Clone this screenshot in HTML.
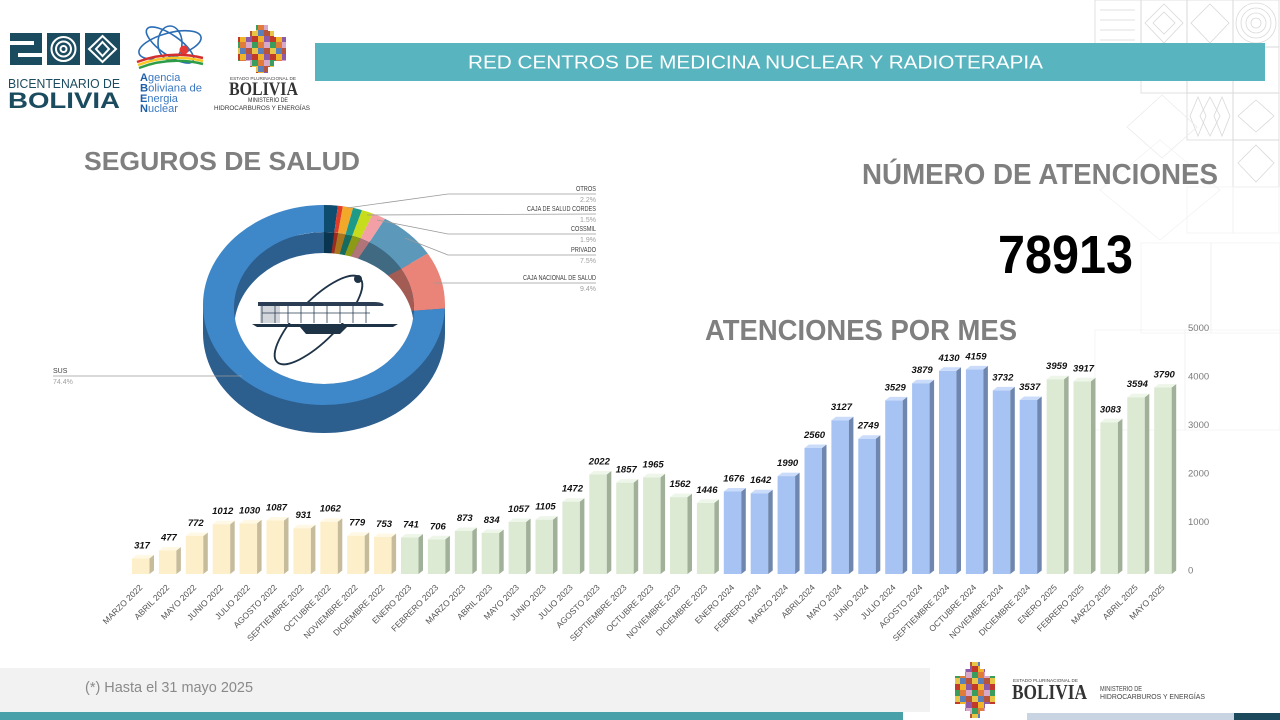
<!DOCTYPE html>
<html><head><meta charset="utf-8"><style>
html,body{margin:0;padding:0;background:#fff;}
svg{display:block;}
text{font-family:"Liberation Sans",Arial,sans-serif;}
.y22 rect{fill:#fcefc9}.y22 .s{fill:#c6bc9c}.y22 .t{fill:#fff8e4}
.y23 rect{fill:#dcead4}.y23 .s{fill:#a0b099}.y23 .t{fill:#eef6ea}
.y24 rect{fill:#a6c3f3}.y24 .s{fill:#6f87ae}.y24 .t{fill:#cbdcfb}
.v{font-size:9.5px;font-weight:bold;font-style:italic;fill:#111;text-anchor:middle;}
.l{font-size:8.5px;fill:#555;text-anchor:end;}
.ax{font-size:9.5px;fill:#7a7a7a;}
.pl{font-size:7px;fill:#404040;text-anchor:end;}
.pp{font-size:7px;fill:#a0a0a0;text-anchor:end;}
</style></head><body>
<svg width="1280" height="720" viewBox="0 0 1280 720" xmlns="http://www.w3.org/2000/svg">
<defs>
<pattern id="pc" width="18" height="18" patternUnits="userSpaceOnUse">
<rect width="6" height="6" fill="#c0392b"/><rect x="6" width="6" height="6" fill="#f0b429"/><rect x="12" width="6" height="6" fill="#8e5aa8"/>
<rect y="6" width="6" height="6" fill="#3a9d5d"/><rect x="6" y="6" width="6" height="6" fill="#e07b39"/><rect x="12" y="6" width="6" height="6" fill="#d9a7c7"/>
<rect y="12" width="6" height="6" fill="#e8c547"/><rect x="6" y="12" width="6" height="6" fill="#5b7fb8"/><rect x="12" y="12" width="6" height="6" fill="#b5533c"/>
</pattern>
<clipPath id="hole"><ellipse cx="324" cy="308" rx="90" ry="76"/></clipPath>
</defs>

<!-- background tiles -->
<g fill="none" stroke="#d9d9d9" stroke-width="0.8">
<rect x="1095" y="0" width="46" height="47"/><rect x="1141" y="0" width="46" height="47"/><rect x="1187" y="0" width="46" height="47"/><rect x="1233" y="0" width="46" height="47"/>
<rect x="1141" y="47" width="46" height="46"/><rect x="1187" y="47" width="46" height="46"/><rect x="1233" y="47" width="46" height="46"/>
<rect x="1187" y="93" width="46" height="47"/><rect x="1233" y="93" width="46" height="47"/>
<rect x="1233" y="140" width="46" height="47"/>
<circle cx="1256" cy="23" r="5"/><circle cx="1256" cy="23" r="10"/><circle cx="1256" cy="23" r="15"/><circle cx="1256" cy="23" r="20"/>
<polygon points="1164,4 1183,23 1164,43 1145,23"/><polygon points="1164,12 1175,23 1164,34 1153,23"/>
<polygon points="1210,4 1229,23 1210,43 1191,23"/>
<path d="M1100 10 H1135 M1100 20 H1135 M1100 30 H1135 M1100 40 H1135"/>
<polygon points="1210,97 1220,116 1210,136 1200,116"/><polygon points="1198,97 1206,116 1198,136 1190,116"/><polygon points="1222,97 1230,116 1222,136 1214,116"/>
<polygon points="1256,100 1274,116 1256,132 1238,116"/><polygon points="1256,145 1274,163 1256,182 1238,163"/>
</g>
<g fill="none" stroke="#ebebeb" stroke-width="0.8">
<polygon points="1127,127 1162,95 1197,127 1162,158"/>
</g>
<g fill="none" stroke="#f2f2f2" stroke-width="0.8">
<rect x="1187" y="187" width="46" height="46"/><rect x="1233" y="187" width="46" height="46"/>
<rect x="1141" y="243" width="70" height="90"/><rect x="1211" y="243" width="69" height="90"/>
<polygon points="1100,190 1160,140 1220,190 1160,240"/>
<rect x="1095" y="330" width="90" height="100"/><rect x="1185" y="330" width="95" height="100"/>
</g>

<!-- title bar -->
<rect x="315" y="43" width="950" height="38" fill="#58b5bf"/>
<text x="468" y="68.5" font-size="18" fill="#fff" textLength="575" lengthAdjust="spacingAndGlyphs">RED CENTROS DE MEDICINA NUCLEAR Y RADIOTERAPIA</text>

<!-- logos top left -->
<g fill="#1b4b5f">
<rect x="10" y="33" width="32" height="8"/><rect x="10" y="45" width="32" height="8"/><rect x="10" y="57" width="32" height="8"/>
<rect x="34" y="33" width="8" height="18"/><rect x="10" y="47" width="8" height="18"/>
<rect x="47" y="33" width="33" height="32"/>
<rect x="85" y="33" width="35" height="32"/>
</g>
<g fill="none" stroke="#fff" stroke-width="2">
<circle cx="63.5" cy="49" r="12"/><circle cx="63.5" cy="49" r="7.5"/><circle cx="63.5" cy="49" r="3"/>
<polygon points="102.5,36 116,49 102.5,62 89,49"/><polygon points="102.5,42 109,49 102.5,56 96,49"/>
</g>
<text x="8" y="88" font-size="13" fill="#1b4b5f" textLength="112" lengthAdjust="spacingAndGlyphs">BICENTENARIO DE</text>
<text x="8" y="108" font-size="22" font-weight="bold" fill="#1b4b5f" textLength="112" lengthAdjust="spacingAndGlyphs">BOLIVIA</text>

<g fill="none" stroke="#2a6db5" stroke-width="1.6">
<ellipse cx="170" cy="45" rx="32" ry="12" transform="rotate(-15 170 45)"/>
<ellipse cx="170" cy="45" rx="28" ry="10" transform="rotate(35 170 45)"/>
<ellipse cx="170" cy="43" rx="12" ry="17"/>
</g>
<circle cx="184" cy="50" r="4.5" fill="#e53935"/>
<path d="M137 62 Q170 50 203 58" stroke="#d32f2f" stroke-width="2.5" fill="none"/>
<path d="M138 65 Q170 53 203 61" stroke="#f9c623" stroke-width="2.5" fill="none"/>
<path d="M139 68 Q170 56 203 64" stroke="#2e9d48" stroke-width="2.5" fill="none"/>
<g font-size="11" fill="#3a78c0">
<text x="140" y="81"><tspan font-weight="bold" fill="#1d5fa8">A</tspan>gencia</text>
<text x="140" y="91.5" textLength="62" lengthAdjust="spacingAndGlyphs"><tspan font-weight="bold" fill="#1d5fa8">B</tspan>oliviana de</text>
<text x="140" y="102"><tspan font-weight="bold" fill="#1d5fa8">E</tspan>nergia</text>
<text x="140" y="112"><tspan font-weight="bold" fill="#1d5fa8">N</tspan>uclear</text>
</g>

<path d="M256 25 H268 V31 H274 V37 H286 V61 H274 V67 H268 V73 H256 V67 H250 V61 H238 V37 H250 V31 H256 Z" fill="url(#pc)"/>
<text x="230" y="80" font-size="4.5" fill="#444" textLength="66" lengthAdjust="spacingAndGlyphs">ESTADO PLURINACIONAL DE</text>
<text x="229" y="95" font-size="19" font-weight="bold" fill="#333" textLength="69" lengthAdjust="spacingAndGlyphs" style="font-family:'Liberation Serif',serif">BOLIVIA</text>
<text x="248" y="102" font-size="6.5" fill="#333" textLength="40" lengthAdjust="spacingAndGlyphs">MINISTERIO DE</text>
<text x="214" y="110" font-size="6.5" fill="#333" textLength="96" lengthAdjust="spacingAndGlyphs">HIDROCARBUROS Y ENERGÍAS</text>

<!-- headings -->
<text x="84" y="170" font-size="26" font-weight="bold" fill="#7f7f7f" textLength="276" lengthAdjust="spacingAndGlyphs">SEGUROS DE SALUD</text>
<text x="862" y="184" font-size="29" font-weight="bold" fill="#7f7f7f" textLength="356" lengthAdjust="spacingAndGlyphs">NÚMERO DE ATENCIONES</text>
<text x="998" y="273" font-size="54" font-weight="bold" fill="#000" textLength="135" lengthAdjust="spacingAndGlyphs">78913</text>
<text x="705" y="340" font-size="29" font-weight="bold" fill="#7f7f7f" textLength="312" lengthAdjust="spacingAndGlyphs">ATENCIONES POR MES</text>

<!-- donut -->
<ellipse cx="324" cy="333" rx="121" ry="100" fill="#2c5e8e"/>
<rect x="203" y="305" width="242" height="28" fill="#2c5e8e"/>
<path d="M324 205 A121 100 0 0 1 337.9 205.7 L334.3 232.5 A90 76 0 0 0 324 232 Z" fill="#0e4d70"/>
<path d="M337.9 205.7 A121 100 0 0 1 342.9 206.2 L338.1 232.9 A90 76 0 0 0 334.3 232.5 Z" fill="#e03c2c"/>
<path d="M342.9 206.2 A121 100 0 0 1 353.1 207.9 L345.6 234.2 A90 76 0 0 0 338.1 232.9 Z" fill="#f4a82a"/>
<path d="M353.1 207.9 A121 100 0 0 1 362 210.1 L352.3 235.8 A90 76 0 0 0 345.6 234.2 Z" fill="#1d9a88"/>
<path d="M362 210.1 A121 100 0 0 1 373 213.6 L360.5 238.5 A90 76 0 0 0 352.3 235.8 Z" fill="#c8dc1e"/>
<path d="M373 213.6 A121 100 0 0 1 385 218.7 L369.4 242.4 A90 76 0 0 0 360.5 238.5 Z" fill="#f2a0a6"/>
<path d="M385 218.7 A121 100 0 0 1 427.7 253.5 L401.1 268.9 A90 76 0 0 0 369.4 242.4 Z" fill="#5b98b9"/>
<path d="M427.7 253.5 A121 100 0 0 1 444.9 308.5 L413.9 310.7 A90 76 0 0 0 401.1 268.9 Z" fill="#ea8378"/>
<path d="M444.9 308.5 A121 100 0 1 1 324 205 L324 232 A90 76 0 1 0 413.9 310.7 Z" fill="#3e87c9"/>
<g clip-path="url(#hole)">
<ellipse cx="324" cy="308" rx="90" ry="76" fill="#2c5e8e"/>
<path d="M324 308 L324 232 A90 76 0 0 1 334.3 232.5 Z" fill="#0a3550"/>
<path d="M324 308 L334.3 232.5 A90 76 0 0 1 338.1 232.9 Z" fill="#9c2a1f"/>
<path d="M324 308 L338.1 232.9 A90 76 0 0 1 345.6 234.2 Z" fill="#aa761d"/>
<path d="M324 308 L345.6 234.2 A90 76 0 0 1 352.3 235.8 Z" fill="#146b5f"/>
<path d="M324 308 L352.3 235.8 A90 76 0 0 1 360.5 238.5 Z" fill="#8c9a15"/>
<path d="M324 308 L360.5 238.5 A90 76 0 0 1 369.4 242.4 Z" fill="#b07479"/>
<path d="M324 308 L369.4 242.4 A90 76 0 0 1 401.1 268.9 Z" fill="#3f6a81"/>
<path d="M324 308 L401.1 268.9 A90 76 0 0 1 413.9 310.7 Z" fill="#a35c54"/>
<ellipse cx="324" cy="329" rx="90" ry="76" fill="#fff"/>
</g>
<!-- center logo -->
<ellipse cx="318.5" cy="320" rx="59" ry="20" transform="rotate(-45.4 318.5 320)" fill="none" stroke="#1f3347" stroke-width="1.8"/>
<circle cx="358" cy="279" r="4" fill="#1f3347"/>
<rect x="260" y="306" width="112" height="17" fill="#fff"/>
<rect x="260" y="306" width="20" height="17" fill="#d3d7dc"/>
<g stroke="#2a3d52" stroke-width="0.8">
<path d="M262 306 V323 M275 306 V323 M288 306 V323 M301 306 V323 M314 306 V323 M327 306 V323 M340 306 V323 M353 306 V323 M366 306 V323 M262 313 H370"/>
</g>
<path d="M258 302 H374 Q386 302.5 383 306 H258 Z" fill="#2a3d52"/>
<path d="M252 324 H398 L393 327 H257 Z" fill="#1f3347"/>
<polygon points="300,327 347,327 340,334 306,334" fill="#1f3347"/>

<!-- leader lines -->
<g fill="none" stroke="#9a9a9a" stroke-width="0.8">
<polyline points="347,208 448,194 596,194"/>
<polyline points="367,215 596,214"/>
<polyline points="377,220 448,234 596,234"/>
<polyline points="405,238 448,255 596,255"/>
<polyline points="433,283 596,283"/>
<polyline points="242,376 53,376"/>
</g>
<text class="pl" x="596" y="191" textLength="20" lengthAdjust="spacingAndGlyphs">OTROS</text>
<text class="pp" x="596" y="202">2.2%</text>
<text class="pl" x="596" y="211" textLength="69" lengthAdjust="spacingAndGlyphs">CAJA DE SALUD CORDES</text>
<text class="pp" x="596" y="222">1.5%</text>
<text class="pl" x="596" y="231" textLength="25" lengthAdjust="spacingAndGlyphs">COSSMIL</text>
<text class="pp" x="596" y="242">1.9%</text>
<text class="pl" x="596" y="252" textLength="25" lengthAdjust="spacingAndGlyphs">PRIVADO</text>
<text class="pp" x="596" y="263">7.5%</text>
<text class="pl" x="596" y="280" textLength="73" lengthAdjust="spacingAndGlyphs">CAJA NACIONAL DE SALUD</text>
<text class="pp" x="596" y="291">9.4%</text>
<text x="53" y="373" font-size="7" fill="#404040">SUS</text>
<text x="53" y="384" font-size="7" fill="#a0a0a0">74.4%</text>

<!-- y axis -->
<text class="ax" x="1188" y="573.5">0</text>
<text class="ax" x="1188" y="525">1000</text>
<text class="ax" x="1188" y="476.5">2000</text>
<text class="ax" x="1188" y="428">3000</text>
<text class="ax" x="1188" y="379.5">4000</text>
<text class="ax" x="1188" y="331">5000</text>

<!-- bars -->
<g transform="translate(132,0)" class="y22"><rect x="0" y="558.4" width="17.5" height="15.6"/><polygon class="s" points="17.5,558.4 22,554.9 22,570.5 17.5,574"/><polygon class="t" points="0,558.4 17.5,558.4 22,554.9 4.5,554.9"/><text class="v" x="10" y="548.4">317</text><text class="l" x="11" y="588" transform="rotate(-45 11 588)">MARZO 2022</text></g>
<g transform="translate(158.9,0)" class="y22"><rect x="0" y="550.5" width="17.5" height="23.5"/><polygon class="s" points="17.5,550.5 22,547 22,570.5 17.5,574"/><polygon class="t" points="0,550.5 17.5,550.5 22,547 4.5,547"/><text class="v" x="10" y="540.5">477</text><text class="l" x="11" y="588" transform="rotate(-45 11 588)">ABRIL  2022</text></g>
<g transform="translate(185.8,0)" class="y22"><rect x="0" y="536" width="17.5" height="38"/><polygon class="s" points="17.5,536 22,532.5 22,570.5 17.5,574"/><polygon class="t" points="0,536 17.5,536 22,532.5 4.5,532.5"/><text class="v" x="10" y="526">772</text><text class="l" x="11" y="588" transform="rotate(-45 11 588)">MAYO 2022</text></g>
<g transform="translate(212.7,0)" class="y22"><rect x="0" y="524.2" width="17.5" height="49.8"/><polygon class="s" points="17.5,524.2 22,520.7 22,570.5 17.5,574"/><polygon class="t" points="0,524.2 17.5,524.2 22,520.7 4.5,520.7"/><text class="v" x="10" y="514.2">1012</text><text class="l" x="11" y="588" transform="rotate(-45 11 588)">JUNIO 2022</text></g>
<g transform="translate(239.6,0)" class="y22"><rect x="0" y="523.3" width="17.5" height="50.7"/><polygon class="s" points="17.5,523.3 22,519.8 22,570.5 17.5,574"/><polygon class="t" points="0,523.3 17.5,523.3 22,519.8 4.5,519.8"/><text class="v" x="10" y="513.3">1030</text><text class="l" x="11" y="588" transform="rotate(-45 11 588)">JULIO 2022</text></g>
<g transform="translate(266.5,0)" class="y22"><rect x="0" y="520.5" width="17.5" height="53.5"/><polygon class="s" points="17.5,520.5 22,517 22,570.5 17.5,574"/><polygon class="t" points="0,520.5 17.5,520.5 22,517 4.5,517"/><text class="v" x="10" y="510.5">1087</text><text class="l" x="11" y="588" transform="rotate(-45 11 588)">AGOSTO 2022</text></g>
<g transform="translate(293.4,0)" class="y22"><rect x="0" y="528.2" width="17.5" height="45.8"/><polygon class="s" points="17.5,528.2 22,524.7 22,570.5 17.5,574"/><polygon class="t" points="0,528.2 17.5,528.2 22,524.7 4.5,524.7"/><text class="v" x="10" y="518.2">931</text><text class="l" x="11" y="588" transform="rotate(-45 11 588)">SEPTIEMBRE 2022</text></g>
<g transform="translate(320.3,0)" class="y22"><rect x="0" y="521.7" width="17.5" height="52.3"/><polygon class="s" points="17.5,521.7 22,518.2 22,570.5 17.5,574"/><polygon class="t" points="0,521.7 17.5,521.7 22,518.2 4.5,518.2"/><text class="v" x="10" y="511.7">1062</text><text class="l" x="11" y="588" transform="rotate(-45 11 588)">OCTUBRE 2022</text></g>
<g transform="translate(347.2,0)" class="y22"><rect x="0" y="535.7" width="17.5" height="38.3"/><polygon class="s" points="17.5,535.7 22,532.2 22,570.5 17.5,574"/><polygon class="t" points="0,535.7 17.5,535.7 22,532.2 4.5,532.2"/><text class="v" x="10" y="525.7">779</text><text class="l" x="11" y="588" transform="rotate(-45 11 588)">NOVIEMBRE 2022</text></g>
<g transform="translate(374.1,0)" class="y22"><rect x="0" y="537" width="17.5" height="37"/><polygon class="s" points="17.5,537 22,533.5 22,570.5 17.5,574"/><polygon class="t" points="0,537 17.5,537 22,533.5 4.5,533.5"/><text class="v" x="10" y="527">753</text><text class="l" x="11" y="588" transform="rotate(-45 11 588)">DICIEMBRE 2022</text></g>
<g transform="translate(401,0)" class="y23"><rect x="0" y="537.5" width="17.5" height="36.5"/><polygon class="s" points="17.5,537.5 22,534 22,570.5 17.5,574"/><polygon class="t" points="0,537.5 17.5,537.5 22,534 4.5,534"/><text class="v" x="10" y="527.5">741</text><text class="l" x="11" y="588" transform="rotate(-45 11 588)">ENERO 2023</text></g>
<g transform="translate(427.9,0)" class="y23"><rect x="0" y="539.3" width="17.5" height="34.7"/><polygon class="s" points="17.5,539.3 22,535.8 22,570.5 17.5,574"/><polygon class="t" points="0,539.3 17.5,539.3 22,535.8 4.5,535.8"/><text class="v" x="10" y="529.3">706</text><text class="l" x="11" y="588" transform="rotate(-45 11 588)">FEBRERO 2023</text></g>
<g transform="translate(454.8,0)" class="y23"><rect x="0" y="531" width="17.5" height="43"/><polygon class="s" points="17.5,531 22,527.5 22,570.5 17.5,574"/><polygon class="t" points="0,531 17.5,531 22,527.5 4.5,527.5"/><text class="v" x="10" y="521">873</text><text class="l" x="11" y="588" transform="rotate(-45 11 588)">MARZO 2023</text></g>
<g transform="translate(481.7,0)" class="y23"><rect x="0" y="533" width="17.5" height="41"/><polygon class="s" points="17.5,533 22,529.5 22,570.5 17.5,574"/><polygon class="t" points="0,533 17.5,533 22,529.5 4.5,529.5"/><text class="v" x="10" y="523">834</text><text class="l" x="11" y="588" transform="rotate(-45 11 588)">ABRIL 2023</text></g>
<g transform="translate(508.6,0)" class="y23"><rect x="0" y="522" width="17.5" height="52"/><polygon class="s" points="17.5,522 22,518.5 22,570.5 17.5,574"/><polygon class="t" points="0,522 17.5,522 22,518.5 4.5,518.5"/><text class="v" x="10" y="512">1057</text><text class="l" x="11" y="588" transform="rotate(-45 11 588)">MAYO 2023</text></g>
<g transform="translate(535.5,0)" class="y23"><rect x="0" y="519.6" width="17.5" height="54.4"/><polygon class="s" points="17.5,519.6 22,516.1 22,570.5 17.5,574"/><polygon class="t" points="0,519.6 17.5,519.6 22,516.1 4.5,516.1"/><text class="v" x="10" y="509.6">1105</text><text class="l" x="11" y="588" transform="rotate(-45 11 588)">JUNIO 2023</text></g>
<g transform="translate(562.4,0)" class="y23"><rect x="0" y="501.6" width="17.5" height="72.4"/><polygon class="s" points="17.5,501.6 22,498.1 22,570.5 17.5,574"/><polygon class="t" points="0,501.6 17.5,501.6 22,498.1 4.5,498.1"/><text class="v" x="10" y="491.6">1472</text><text class="l" x="11" y="588" transform="rotate(-45 11 588)">JULIO 2023</text></g>
<g transform="translate(589.3,0)" class="y23"><rect x="0" y="474.5" width="17.5" height="99.5"/><polygon class="s" points="17.5,474.5 22,471 22,570.5 17.5,574"/><polygon class="t" points="0,474.5 17.5,474.5 22,471 4.5,471"/><text class="v" x="10" y="464.5">2022</text><text class="l" x="11" y="588" transform="rotate(-45 11 588)">AGOSTO 2023</text></g>
<g transform="translate(616.2,0)" class="y23"><rect x="0" y="482.6" width="17.5" height="91.4"/><polygon class="s" points="17.5,482.6 22,479.1 22,570.5 17.5,574"/><polygon class="t" points="0,482.6 17.5,482.6 22,479.1 4.5,479.1"/><text class="v" x="10" y="472.6">1857</text><text class="l" x="11" y="588" transform="rotate(-45 11 588)">SEPTIEMBRE 2023</text></g>
<g transform="translate(643.1,0)" class="y23"><rect x="0" y="477.3" width="17.5" height="96.7"/><polygon class="s" points="17.5,477.3 22,473.8 22,570.5 17.5,574"/><polygon class="t" points="0,477.3 17.5,477.3 22,473.8 4.5,473.8"/><text class="v" x="10" y="467.3">1965</text><text class="l" x="11" y="588" transform="rotate(-45 11 588)">OCTUBRE 2023</text></g>
<g transform="translate(670,0)" class="y23"><rect x="0" y="497.1" width="17.5" height="76.9"/><polygon class="s" points="17.5,497.1 22,493.6 22,570.5 17.5,574"/><polygon class="t" points="0,497.1 17.5,497.1 22,493.6 4.5,493.6"/><text class="v" x="10" y="487.1">1562</text><text class="l" x="11" y="588" transform="rotate(-45 11 588)">NOVIEMBRE 2023</text></g>
<g transform="translate(696.9,0)" class="y23"><rect x="0" y="502.9" width="17.5" height="71.1"/><polygon class="s" points="17.5,502.9 22,499.4 22,570.5 17.5,574"/><polygon class="t" points="0,502.9 17.5,502.9 22,499.4 4.5,499.4"/><text class="v" x="10" y="492.9">1446</text><text class="l" x="11" y="588" transform="rotate(-45 11 588)">DICIEMBRE 2023</text></g>
<g transform="translate(723.8,0)" class="y24"><rect x="0" y="491.5" width="17.5" height="82.5"/><polygon class="s" points="17.5,491.5 22,488 22,570.5 17.5,574"/><polygon class="t" points="0,491.5 17.5,491.5 22,488 4.5,488"/><text class="v" x="10" y="481.5">1676</text><text class="l" x="11" y="588" transform="rotate(-45 11 588)">ENERO 2024</text></g>
<g transform="translate(750.7,0)" class="y24"><rect x="0" y="493.2" width="17.5" height="80.8"/><polygon class="s" points="17.5,493.2 22,489.7 22,570.5 17.5,574"/><polygon class="t" points="0,493.2 17.5,493.2 22,489.7 4.5,489.7"/><text class="v" x="10" y="483.2">1642</text><text class="l" x="11" y="588" transform="rotate(-45 11 588)">FEBRERO 2024</text></g>
<g transform="translate(777.6,0)" class="y24"><rect x="0" y="476.1" width="17.5" height="97.9"/><polygon class="s" points="17.5,476.1 22,472.6 22,570.5 17.5,574"/><polygon class="t" points="0,476.1 17.5,476.1 22,472.6 4.5,472.6"/><text class="v" x="10" y="466.1">1990</text><text class="l" x="11" y="588" transform="rotate(-45 11 588)">MARZO 2024</text></g>
<g transform="translate(804.5,0)" class="y24"><rect x="0" y="448" width="17.5" height="126"/><polygon class="s" points="17.5,448 22,444.5 22,570.5 17.5,574"/><polygon class="t" points="0,448 17.5,448 22,444.5 4.5,444.5"/><text class="v" x="10" y="438">2560</text><text class="l" x="11" y="588" transform="rotate(-45 11 588)">ABRIL2024</text></g>
<g transform="translate(831.4,0)" class="y24"><rect x="0" y="420.2" width="17.5" height="153.8"/><polygon class="s" points="17.5,420.2 22,416.7 22,570.5 17.5,574"/><polygon class="t" points="0,420.2 17.5,420.2 22,416.7 4.5,416.7"/><text class="v" x="10" y="410.2">3127</text><text class="l" x="11" y="588" transform="rotate(-45 11 588)">MAYO 2024</text></g>
<g transform="translate(858.3,0)" class="y24"><rect x="0" y="438.7" width="17.5" height="135.3"/><polygon class="s" points="17.5,438.7 22,435.2 22,570.5 17.5,574"/><polygon class="t" points="0,438.7 17.5,438.7 22,435.2 4.5,435.2"/><text class="v" x="10" y="428.7">2749</text><text class="l" x="11" y="588" transform="rotate(-45 11 588)">JUNIO 2024</text></g>
<g transform="translate(885.2,0)" class="y24"><rect x="0" y="400.4" width="17.5" height="173.6"/><polygon class="s" points="17.5,400.4 22,396.9 22,570.5 17.5,574"/><polygon class="t" points="0,400.4 17.5,400.4 22,396.9 4.5,396.9"/><text class="v" x="10" y="390.4">3529</text><text class="l" x="11" y="588" transform="rotate(-45 11 588)">JULIO  2024</text></g>
<g transform="translate(912.1,0)" class="y24"><rect x="0" y="383.2" width="17.5" height="190.8"/><polygon class="s" points="17.5,383.2 22,379.7 22,570.5 17.5,574"/><polygon class="t" points="0,383.2 17.5,383.2 22,379.7 4.5,379.7"/><text class="v" x="10" y="373.2">3879</text><text class="l" x="11" y="588" transform="rotate(-45 11 588)">AGOSTO  2024</text></g>
<g transform="translate(939,0)" class="y24"><rect x="0" y="370.8" width="17.5" height="203.2"/><polygon class="s" points="17.5,370.8 22,367.3 22,570.5 17.5,574"/><polygon class="t" points="0,370.8 17.5,370.8 22,367.3 4.5,367.3"/><text class="v" x="10" y="360.8">4130</text><text class="l" x="11" y="588" transform="rotate(-45 11 588)">SEPTIEMBRE 2024</text></g>
<g transform="translate(965.9,0)" class="y24"><rect x="0" y="369.4" width="17.5" height="204.6"/><polygon class="s" points="17.5,369.4 22,365.9 22,570.5 17.5,574"/><polygon class="t" points="0,369.4 17.5,369.4 22,365.9 4.5,365.9"/><text class="v" x="10" y="359.4">4159</text><text class="l" x="11" y="588" transform="rotate(-45 11 588)">OCTUBRE 2024</text></g>
<g transform="translate(992.8,0)" class="y24"><rect x="0" y="390.4" width="17.5" height="183.6"/><polygon class="s" points="17.5,390.4 22,386.9 22,570.5 17.5,574"/><polygon class="t" points="0,390.4 17.5,390.4 22,386.9 4.5,386.9"/><text class="v" x="10" y="380.4">3732</text><text class="l" x="11" y="588" transform="rotate(-45 11 588)">NOVIEMBRE  2024</text></g>
<g transform="translate(1019.7,0)" class="y24"><rect x="0" y="400" width="17.5" height="174"/><polygon class="s" points="17.5,400 22,396.5 22,570.5 17.5,574"/><polygon class="t" points="0,400 17.5,400 22,396.5 4.5,396.5"/><text class="v" x="10" y="390">3537</text><text class="l" x="11" y="588" transform="rotate(-45 11 588)">DICIEMBRE 2024</text></g>
<g transform="translate(1046.6,0)" class="y23"><rect x="0" y="379.2" width="17.5" height="194.8"/><polygon class="s" points="17.5,379.2 22,375.7 22,570.5 17.5,574"/><polygon class="t" points="0,379.2 17.5,379.2 22,375.7 4.5,375.7"/><text class="v" x="10" y="369.2">3959</text><text class="l" x="11" y="588" transform="rotate(-45 11 588)">ENERO 2025</text></g>
<g transform="translate(1073.5,0)" class="y23"><rect x="0" y="381.3" width="17.5" height="192.7"/><polygon class="s" points="17.5,381.3 22,377.8 22,570.5 17.5,574"/><polygon class="t" points="0,381.3 17.5,381.3 22,377.8 4.5,377.8"/><text class="v" x="10" y="371.3">3917</text><text class="l" x="11" y="588" transform="rotate(-45 11 588)">FEBRERO 2025</text></g>
<g transform="translate(1100.4,0)" class="y23"><rect x="0" y="422.3" width="17.5" height="151.7"/><polygon class="s" points="17.5,422.3 22,418.8 22,570.5 17.5,574"/><polygon class="t" points="0,422.3 17.5,422.3 22,418.8 4.5,418.8"/><text class="v" x="10" y="412.3">3083</text><text class="l" x="11" y="588" transform="rotate(-45 11 588)">MARZO 2025</text></g>
<g transform="translate(1127.3,0)" class="y23"><rect x="0" y="397.2" width="17.5" height="176.8"/><polygon class="s" points="17.5,397.2 22,393.7 22,570.5 17.5,574"/><polygon class="t" points="0,397.2 17.5,397.2 22,393.7 4.5,393.7"/><text class="v" x="10" y="387.2">3594</text><text class="l" x="11" y="588" transform="rotate(-45 11 588)">ABRIL 2025</text></g>
<g transform="translate(1154.2,0)" class="y23"><rect x="0" y="387.5" width="17.5" height="186.5"/><polygon class="s" points="17.5,387.5 22,384 22,570.5 17.5,574"/><polygon class="t" points="0,387.5 17.5,387.5 22,384 4.5,384"/><text class="v" x="10" y="377.5">3790</text><text class="l" x="11" y="588" transform="rotate(-45 11 588)">MAYO 2025</text></g>

<!-- footer -->
<rect x="0" y="668" width="930" height="44" fill="#f2f2f2"/>
<text x="85" y="692" font-size="15" fill="#8a8a8a" textLength="168" lengthAdjust="spacingAndGlyphs">(*) Hasta el 31 mayo 2025</text>
<rect x="0" y="712" width="903" height="8" fill="#4aa0a8"/>
<rect x="1027" y="713" width="207" height="7" fill="#c9d4e2"/>
<rect x="1234" y="713" width="46" height="7" fill="#1c4a5c"/>
<path d="M970 662 H980 V669 H985 V676 H995 V704 H985 V711 H980 V718 H970 V711 H965 V704 H955 V676 H965 V669 H970 Z" fill="url(#pc)"/>
<text x="1013" y="682" font-size="4.5" fill="#444" textLength="65" lengthAdjust="spacingAndGlyphs">ESTADO PLURINACIONAL DE</text>
<text x="1012" y="699" font-size="21" font-weight="bold" fill="#333" textLength="75" lengthAdjust="spacingAndGlyphs" style="font-family:'Liberation Serif',serif">BOLIVIA</text>
<text x="1100" y="691" font-size="7" fill="#444" textLength="42" lengthAdjust="spacingAndGlyphs">MINISTERIO DE</text>
<text x="1100" y="699" font-size="7" fill="#444" textLength="105" lengthAdjust="spacingAndGlyphs">HIDROCARBUROS Y ENERGÍAS</text>
</svg>
</body></html>
